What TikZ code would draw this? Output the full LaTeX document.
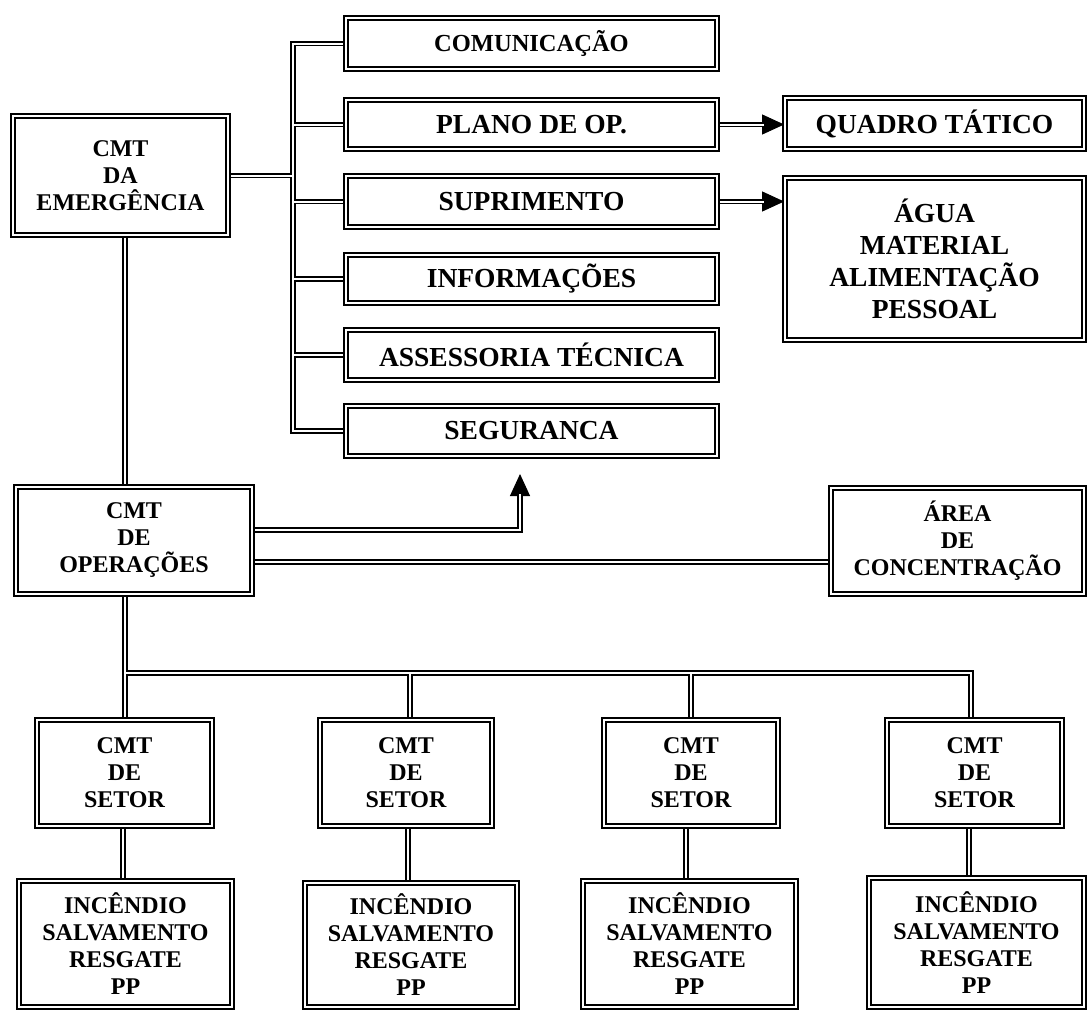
\documentclass[tikz,border=0pt]{standalone}
\usepackage{fontspec}
\setmainfont{Liberation Serif}
\usetikzlibrary{arrows.meta,backgrounds,calc}
\begin{document}
\begin{tikzpicture}[x=1pt,y=-1pt,
  box/.style n args={2}{draw=black, double=white, double distance=2.2pt, line width=1.8pt,
    fill=white, inner sep=0pt, align=center, minimum width=#1pt, minimum height=#2pt},
  bigtxt/.style={font=\fontsize{27.5}{32}\selectfont\bfseries},
  comtxt/.style={font=\fontsize{24.5}{28}\selectfont\bfseries},
  smalltxt/.style={font=\fontsize{24}{27}\selectfont\bfseries},
  conn/.style={draw=black, double=white, double distance=2pt, line width=1.6pt},
  tipst/.style={draw=black, line width=1pt, -{Triangle[length=22pt,width=20pt]}}
]
\useasboundingbox (0,0) rectangle (1089,1012);

% top-left chief
\node[box={215}{119}, smalltxt] (emerg) at (120.5,175.5) {CMT\\DA\\EMERGÊNCIA};

% staff column
\node[box={371}{51}, comtxt]  (com)   at (531.5,43.5) {COMUNICAÇÃO};
\node[box={371}{49}, bigtxt]  (plano) at (531.5,124.5) {PLANO DE OP.};
\node[box={371}{51}, bigtxt]  (supr)  at (531.5,201.5) {SUPRIMENTO};
\node[box={371}{48}, bigtxt]  (info)  at (531.5,279) {INFORMAÇÕES};
\node[box={371}{50}, bigtxt]  (asses) at (531.5,355) {ASSESSORIA TÉCNICA};
\node[box={371}{50}, bigtxt]  (seg)   at (531.5,431) {SEGURANCA};

% right column
\node[box={299}{51}, bigtxt]  (quadro) at (934.5,123.5) {QUADRO TÁTICO};
\node[box={299}{162}, bigtxt] (agua)   at (934.5,259) {ÁGUA\\MATERIAL\\ALIMENTAÇÃO\\PESSOAL};

% operations level
\node[box={236}{107}, smalltxt] (ops)  at (134,540.5) {CMT\\DE\\OPERAÇÕES};
\node[box={253}{106}, smalltxt] (area) at (957.5,541) {ÁREA\\DE\\CONCENTRAÇÃO};

% sectors
\node[box={175}{106}, smalltxt] (set1) at (124.5,773) {CMT\\DE\\SETOR};
\node[box={172}{106}, smalltxt] (set2) at (406,773) {CMT\\DE\\SETOR};
\node[box={174}{106}, smalltxt] (set3) at (691,773) {CMT\\DE\\SETOR};
\node[box={175}{106}, smalltxt] (set4) at (974.5,773) {CMT\\DE\\SETOR};

\node[box={213}{126}, smalltxt] (inc1) at (125.5,944) {INCÊNDIO\\SALVAMENTO\\RESGATE\\PP};
\node[box={212}{124}, smalltxt] (inc2) at (411,945) {INCÊNDIO\\SALVAMENTO\\RESGATE\\PP};
\node[box={213}{126}, smalltxt] (inc3) at (689.5,944) {INCÊNDIO\\SALVAMENTO\\RESGATE\\PP};
\node[box={215}{129}, smalltxt] (inc4) at (976.5,942.5) {INCÊNDIO\\SALVAMENTO\\RESGATE\\PP};

% helper coordinates
\coordinate (busx) at (293,0);
\coordinate (vx)   at (125,0);
\coordinate (busy) at (0,673);
\coordinate (xa) at (410,0);
\coordinate (xb) at (691,0);
\coordinate (xc) at (971,0);
\coordinate (xd1) at (123,0);
\coordinate (xd2) at (408,0);
\coordinate (xd3) at (686,0);
\coordinate (xd4) at (969,0);
\coordinate (yup) at (0,530);
\coordinate (ylow) at (0,562);
\coordinate (segtip) at (520,474);

\begin{scope}[on background layer]
  \fill[white] (0,0) rectangle (1089,1012);
  % staff bus
  \draw[conn] (com.west) -- (com.west -| busx) -- (seg.west -| busx) -- (seg.west)
    (emerg.east) -- (emerg.east -| busx)
    (plano.west) -- (plano.west -| busx)
    (supr.west) -- (supr.west -| busx)
    (info.west) -- (info.west -| busx)
    (asses.west) -- (asses.west -| busx);
  % arrows to right column
  \draw[tipst] (plano.east) -- (plano.east -| quadro.west);
  \draw[conn, shorten >=20pt] (plano.east) -- (plano.east -| quadro.west);
  \draw[tipst] (supr.east) -- (supr.east -| agua.west);
  \draw[conn, shorten >=20pt] (supr.east) -- (supr.east -| agua.west);
  % chief to operations
  \draw[conn] (emerg.south -| vx) -- (ops.north -| vx);
  % operations to seguranca
  \draw[tipst] (ops.east |- yup) -| (segtip);
  \draw[conn, shorten >=20pt] (ops.east |- yup) -| (segtip);
  % operations to area
  \draw[conn] (ops.east |- ylow) -- (area.west |- ylow);
  % sectors tree
  \draw[conn] (ops.south -| vx) -- (set1.north -| vx)
    (vx |- busy) -- (xc |- busy) -- (set4.north -| xc)
    (xa |- busy) -- (set2.north -| xa)
    (xb |- busy) -- (set3.north -| xb);
  % sectors to tasks
  \draw[conn] (set1.south -| xd1) -- (inc1.north -| xd1)
    (set2.south -| xd2) -- (inc2.north -| xd2)
    (set3.south -| xd3) -- (inc3.north -| xd3)
    (set4.south -| xd4) -- (inc4.north -| xd4);
\end{scope}
\end{tikzpicture}
\end{document}
